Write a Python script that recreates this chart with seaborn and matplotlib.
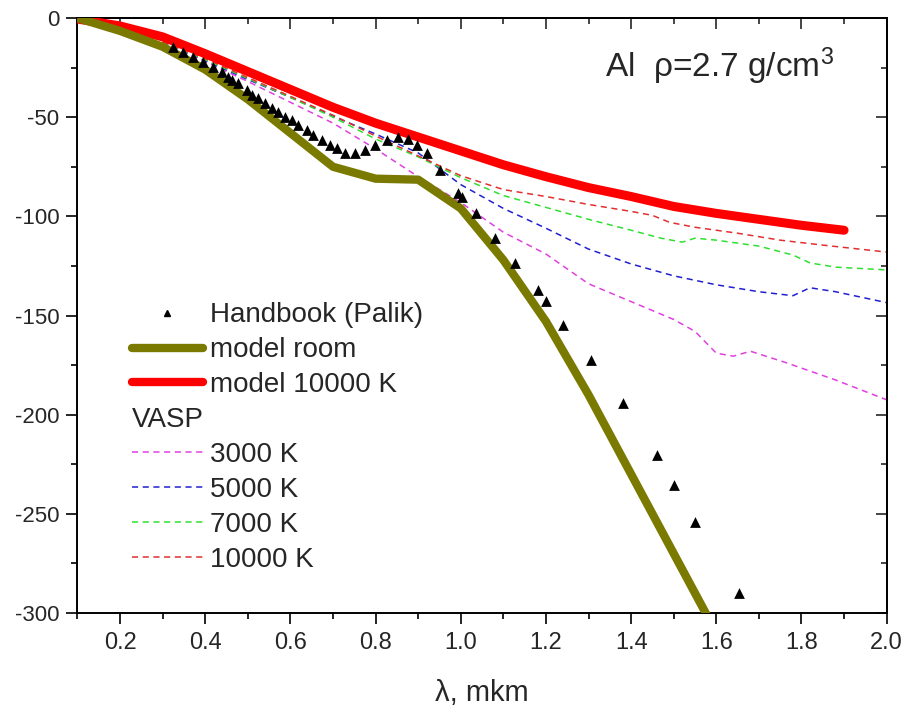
import numpy as np
import pandas as pd
import matplotlib
matplotlib.use("Agg")
import matplotlib.pyplot as plt
import seaborn as sns
from matplotlib.lines import Line2D
from matplotlib.ticker import MultipleLocator
from matplotlib.transforms import IdentityTransform

# ---------------- data ----------------
palik_x = [0.324, 0.348, 0.371, 0.395, 0.418, 0.439, 0.453, 0.463, 0.477, 0.498,
           0.510, 0.524, 0.540, 0.557, 0.571, 0.587, 0.604, 0.618, 0.639, 0.653,
           0.674, 0.693, 0.709, 0.728, 0.752, 0.775, 0.799, 0.827, 0.853, 0.876,
           0.897, 0.921, 0.951, 0.994, 1.003, 1.036, 1.080, 1.128, 1.181, 1.200,
           1.240, 1.306, 1.381, 1.461, 1.501, 1.550, 1.653]
palik_y = [-14.6, -17.1, -19.7, -22.2, -24.7, -27.2, -29.8, -31.3, -32.8, -36.3,
           -38.8, -40.3, -42.9, -45.4, -47.4, -49.9, -51.4, -54.0, -56.5, -59.0,
           -61.5, -64.0, -65.6, -68.1, -68.1, -66.6, -64.0, -61.5, -60.0, -61.0,
           -64.0, -68.1, -76.6, -88.3, -90.3, -98.3, -110.9, -123.5, -137.2, -142.7,
           -154.8, -172.5, -194.1, -220.4, -235.5, -254.2, -290.0]

room_x = [0.1, 0.2, 0.3, 0.4, 0.5, 0.6, 0.7, 0.8, 0.9, 1.0, 1.1, 1.2, 1.3, 1.4, 1.5, 1.6]
room_y = [0, -6.5, -14.5, -26, -41, -58, -75, -81, -81.5, -96, -122, -153, -190, -230, -270, -310]

hot_x = [0.1, 0.2, 0.3, 0.4, 0.5, 0.6, 0.7, 0.8, 0.9, 1.0, 1.1, 1.2, 1.3, 1.4, 1.5,
         1.6, 1.7, 1.8, 1.9]
hot_y = [-0.5, -4, -9.5, -18, -27, -36, -45, -53, -60, -67, -74, -80, -85.5, -90, -95,
         -98.5, -101.5, -104.5, -107]

v3000_x = [0.3, 0.4, 0.5, 0.6, 0.7, 0.8, 0.9, 1.0, 1.1, 1.2, 1.3, 1.4, 1.5, 1.55, 1.6,
           1.64, 1.68, 1.76, 1.88, 2.0]
v3000_y = [-12, -22, -32, -42.5, -53, -66, -80, -93, -108, -119, -134, -143, -152, -158,
           -169, -170.5, -168, -173.5, -182.5, -192.5]

v5000_x = [0.3, 0.4, 0.5, 0.6, 0.7, 0.8, 0.9, 1.0, 1.1, 1.2, 1.3, 1.4, 1.5, 1.6, 1.7,
           1.78, 1.82, 1.88, 2.0]
v5000_y = [-12, -21.5, -31, -40, -49.5, -58.5, -68, -84, -96, -106, -116.5, -124, -130,
           -134.5, -138, -140, -136, -138, -143.5]

v7000_x = [0.3, 0.4, 0.5, 0.6, 0.7, 0.8, 0.9, 1.0, 1.1, 1.2, 1.3, 1.4, 1.47, 1.52, 1.55,
           1.6, 1.7, 1.78, 1.82, 1.88, 2.0]
v7000_y = [-12, -21, -30.5, -40, -50, -61, -70, -80.5, -89.5, -95.5, -101.5, -107, -111,
           -113, -111, -112, -115, -119.5, -123.5, -125.6, -127]

v10000_x = [0.3, 0.4, 0.5, 0.6, 0.7, 0.8, 0.9, 1.0, 1.1, 1.2, 1.3, 1.4, 1.45, 1.49, 1.55,
            1.65, 1.75, 1.85, 2.0]
v10000_y = [-12, -20.5, -30, -39.5, -49, -59.5, -69.5, -79.5, -86.5, -90, -94, -97.5,
            -99.5, -103, -105.5, -108.5, -112, -114.5, -118]

x_ticks = [0.2, 0.4, 0.6, 0.8, 1.0, 1.2, 1.4, 1.6, 1.8, 2.0]
y_ticks = [0, -50, -100, -150, -200, -250, -300]

legend_labels = ['Handbook (Palik)', 'model room', 'model 10000 K', 'VASP',
                 '3000 K', '5000 K', '7000 K', '10000 K']

# ---------------- style ----------------
sns.set_style("ticks")
plt.rcParams['font.family'] = ['Liberation Sans', 'DejaVu Sans']
plt.rcParams['mathtext.fontset'] = 'custom'
plt.rcParams['mathtext.rm'] = 'Liberation Sans'
plt.rcParams['mathtext.it'] = 'Liberation Sans'
plt.rcParams['axes.unicode_minus'] = False

OLIVE = '#7a7a00'
RED = '#ff0000'
C3 = '#e040e0'
C5 = '#2020d0'
C7 = '#30e030'
C10 = '#e03030'

fig = plt.figure(figsize=(9.02, 7.18), dpi=100)
ax = fig.add_axes([0.0859, 0.1462, 0.8971, 0.8287])

dash = [4, 3]
for xs, ys, c in [(v3000_x, v3000_y, C3),
                  (v5000_x, v5000_y, C5),
                  (v7000_x, v7000_y, C7),
                  (v10000_x, v10000_y, C10)]:
    sns.lineplot(x=xs, y=ys, ax=ax, color=c, linewidth=1.1, linestyle='--', zorder=2)
    ax.lines[-1].set_dashes(dash)

sns.lineplot(x=hot_x, y=hot_y, ax=ax, color=RED, linewidth=6.5, zorder=3,
             solid_capstyle='round')
sns.lineplot(x=room_x, y=room_y, ax=ax, color=OLIVE, linewidth=6.0, zorder=3,
             solid_capstyle='butt')
sns.scatterplot(x=palik_x, y=palik_y, ax=ax, marker='^', color='black', s=60,
                edgecolor='black', linewidth=0, zorder=5)

ax.set_xlim(0.1, 2.0)
ax.set_ylim(-300, 0)
ax.set_xticks(x_ticks)
ax.set_yticks(y_ticks)
ax.xaxis.set_minor_locator(MultipleLocator(0.1))
ax.yaxis.set_minor_locator(MultipleLocator(25))

for s in ax.spines.values():
    s.set_linewidth(1.4)
    s.set_visible(True)
    s.set_color('black')

ax.tick_params(axis='both', which='major', direction='out', length=8, width=1.2,
               color='black')
ax.tick_params(axis='both', which='minor', direction='out', length=4.5, width=1.2,
               color='black')
ax.tick_params(axis='x', which='major', labelsize=17, pad=6)
ax.tick_params(axis='y', which='major', labelsize=16, pad=5)

top = ax.secondary_xaxis('top')
top.set_xticks(x_ticks)
top.xaxis.set_minor_locator(MultipleLocator(0.1))
top.tick_params(which='major', direction='in', length=8, width=1.2, labeltop=False)
top.tick_params(which='minor', direction='in', length=4.5, width=1.2)
top.spines['top'].set_linewidth(1.4)

right = ax.secondary_yaxis('right')
right.set_yticks(y_ticks)
right.yaxis.set_minor_locator(MultipleLocator(25))
right.tick_params(which='major', direction='in', length=8, width=1.2, labelright=False)
right.tick_params(which='minor', direction='in', length=4.5, width=1.2)
right.spines['right'].set_linewidth(1.4)

ax.set_xlabel('λ, mkm', fontsize=21, labelpad=18)
ax.set_ylabel('')

ax.text(0.652, 0.9008, 'Al  ρ=2.7 g/cm$^3$', transform=ax.transAxes,
        fontsize=24, ha='left', va='baseline')

handles = [
    Line2D([], [], ls='none', marker='^', color='black', markersize=5),
    Line2D([], [], color=OLIVE, lw=6, solid_capstyle='round'),
    Line2D([], [], color=RED, lw=6, solid_capstyle='round'),
    Line2D([], [], ls='none'),
    Line2D([], [], color=C3, lw=1.1, dashes=dash),
    Line2D([], [], color=C5, lw=1.1, dashes=dash),
    Line2D([], [], color=C7, lw=1.1, dashes=dash),
    Line2D([], [], color=C10, lw=1.1, dashes=dash),
]
labels = list(legend_labels)
labels[3] = ' '
leg = ax.legend(handles, labels, loc='upper left', bbox_to_anchor=(0.067, 0.522),
                frameon=False, fontsize=20, handlelength=2.55, handletextpad=0.28,
                labelspacing=0.32, borderpad=0, borderaxespad=0)

fig.canvas.draw()
texts = leg.get_texts()
b2 = texts[2].get_window_extent()
b4 = texts[4].get_window_extent()
ycen = (b2.y0 + b2.y1 + b4.y0 + b4.y1) / 4.0
x0 = leg.get_window_extent().x0
fig.text(x0, ycen, legend_labels[3], transform=IdentityTransform(), fontsize=20,
         ha='left', va='center')

fig.savefig('out.png', dpi=100)
